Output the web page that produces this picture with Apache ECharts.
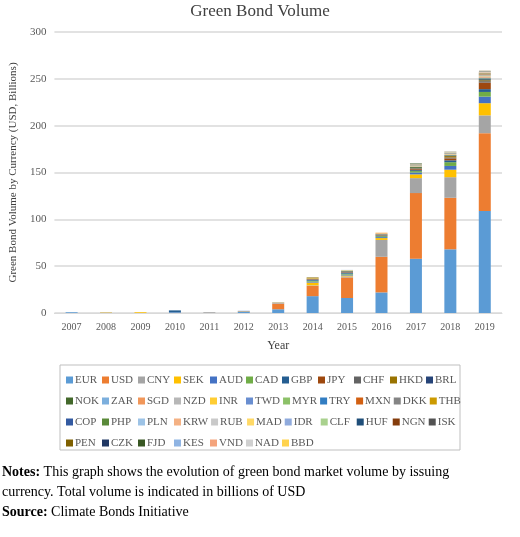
<!DOCTYPE html><html><head><meta charset="utf-8">
<script src="https://cdn.jsdelivr.net/npm/echarts@6/dist/echarts.min.js"></script>
<style>html,body{margin:0;padding:0;background:#fff}#c{width:520px;height:537px}</style></head><body><div id="c"></div>
<script>
const years=['2007','2008','2009','2010','2011','2012','2013','2014','2015','2016','2017','2018','2019'];
const currencies=['EUR','USD','CNY','SEK','AUD','CAD','GBP','JPY','CHF','HKD','BRL','NOK','ZAR','SGD','NZD','INR','TWD','MYR','TRY','MXN','DKK','THB','COP','PHP','PLN','KRW','RUB','MAD','IDR','CLF','HUF','NGN','ISK','PEN','CZK','FJD','KES','VND','NAD','BBD'];
const colors=['#5B9BD5','#ED7D31','#A5A5A5','#FFC000','#4472C4','#70AD47','#255E91','#9E480E','#636363','#997300','#264478','#43682B','#7CAFDD','#F1975A','#B7B7B7','#FFCD33','#698ED0','#8CC168','#327DC2','#D26012','#848484','#CC9A00','#335AA1','#5A8A39','#9DC3E6','#F4B183','#C9C9C9','#FFD966','#8FAADC','#A9D18E','#1F4E79','#843C0C','#525252','#7F6000','#203864','#385723','#8FB4E3','#F4A47C','#D0D0D0','#FFD34D'];
const values={
EUR:[0.8,0,0,0.5,0,1.2,4,18,16,22,58,68,109],
USD:[0,0,0,0,0,0.3,6,11,22,38,70,55,83],
CNY:[0,0,0,0,0.8,0,1,0.5,1,18,16,22,19],
SEK:[0,0,0.8,0,0,0.3,0.3,3,1,2,4,8,13],
AUD:[0,0,0,0.3,0,0.5,0.2,1,1,1,2,4,7],
CAD:[0,0,0,0,0,0,0,1,1,1,1.5,4,5],
GBP:[0,0,0,2,0,0,0,1,1,0.5,1,2,3],
JPY:[0,0,0,0,0,0,0,0.5,0.5,0.5,1,2,7],
CHF:[0,0,0,0,0,0,0,0.5,0.5,0.5,0.5,1,1.5],
HKD:[0,0,0,0,0,0,0,0.5,0.3,0.3,0.5,1.5,1],
BRL:[0,0,0,0,0,0,0,0,0.3,0.2,0.5,0.5,1],
NOK:[0,0,0,0,0,0,0,0,0.3,0.2,1,0.5,1],
ZAR:[0,0,0,0,0,0,0,0,0.3,0.2,0.3,0.3,0.8],
SGD:[0,0,0,0,0,0,0,0,0,0.2,0.3,0.3,1],
NZD:[0,0,0,0,0,0,0,0,0,0,0.2,0.3,0.5],
INR:[0,0,0,0,0,0,0,0.5,0.5,0.3,0.5,0.3,0.8],
TWD:[0,0,0,0,0,0,0,0,0,0,0.2,0.3,0.5],
MYR:[0,0,0,0,0,0,0,0,0,0,0.2,0.2,0.3],
TRY:[0,0,0,0,0,0,0,0,0,0,0.2,0.2,0.3],
MXN:[0,0,0,0,0,0,0,0,0,0.3,0.2,0.2,0.5],
DKK:[0,0,0,0,0,0,0,0,0,0,0.2,0.2,0.3],
THB:[0,0.4,0,0,0,0,0,0,0,0,0,0.2,0.5],
COP:[0,0,0,0,0,0,0,0,0,0,0,0.1,0.2],
PHP:[0,0,0,0,0,0,0,0,0,0,0,0.1,0.2],
PLN:[0,0,0,0,0,0,0,0,0,0,0.2,0.1,0.2],
KRW:[0,0,0,0,0,0,0,0,0,0.5,0.1,0.2,0.5],
RUB:[0,0,0,0,0,0,0,0,0,0,0,0.1,0.2],
MAD:[0,0,0,0,0,0,0,0,0,0.2,0.1,0.1,0.2],
IDR:[0,0,0,0,0,0,0,0,0.3,0,0,0.1,0.3],
CLF:[0,0,0,0,0,0,0,0,0,0,0.1,0.1,0.1],
HUF:[0,0,0,0,0,0,0,0,0,0,0,0.1,0.1],
NGN:[0,0,0,0,0,0,0,0,0,0,0.1,0.1,0.1],
ISK:[0,0,0,0,0,0,0,0,0,0,0.1,0,0.1],
PEN:[0,0,0,0,0,0,0,0.5,0,0,0,0.1,0.1],
CZK:[0,0,0,0,0,0,0,0,0,0,0,0,0.1],
FJD:[0,0,0,0,0,0,0,0,0,0,0.6,0,0.1],
KES:[0,0,0,0,0,0,0,0,0,0,0,0,0.1],
VND:[0,0,0,0,0,0,0,0,0,0,0,0,0.1],
NAD:[0,0,0,0,0,0,0,0,0,0,0,0,0.1],
BBD:[0,0,0,0,0,0,0,0,0,0,0,0,0.1]
};
const yTicks=[0,50,100,150,200,250,300];
const F='"Liberation Serif", "DejaVu Serif", serif';
const chart=echarts.init(document.getElementById('c'));
chart.setOption({
 animation:false,
 color:colors,
 title:{text:'Green Bond Volume',left:'center',top:-2,textStyle:{fontFamily:F,fontSize:17,fontWeight:'normal',color:'#404040'}},
 grid:{left:45,right:18,top:32,bottom:224},
 xAxis:{type:'category',data:years,name:'Year',nameLocation:'middle',nameGap:27,nameTextStyle:{fontFamily:F,fontSize:12,color:'#404040'},
  axisLine:{lineStyle:{color:'#d9d9d9'}},axisTick:{show:false},axisLabel:{fontFamily:F,fontSize:10,color:'#595959',margin:9}},
 yAxis:{type:'value',min:yTicks[0],max:yTicks[yTicks.length-1],interval:50,name:'Green Bond Volume by Currency (USD, Billions)',nameLocation:'middle',nameGap:32,
  nameTextStyle:{fontFamily:F,fontSize:11,color:'#404040'},axisLabel:{fontFamily:F,fontSize:11,color:'#595959'},
  splitLine:{lineStyle:{color:'#d9d9d9',width:1.5}},axisLine:{show:false}},
 legend:{data:currencies,left:66,top:371,width:398,padding:0,itemWidth:7,itemHeight:7,itemGap:3,icon:'rect',
  textStyle:{fontFamily:F,fontSize:11,color:'#595959',width:24,lineHeight:18,overflow:'none',padding:[0,0,0,-3]}},
 graphic:[
  {type:'rect',shape:{x:60,y:365,width:400,height:85},style:{fill:'none',stroke:'#bfbfbf',lineWidth:1}},
  {type:'text',left:2,top:462,style:{fontFamily:F,fontSize:14,lineHeight:20,fill:'#000',
   text:'{b|Notes:} This graph shows the evolution of green bond market volume by issuing\ncurrency. Total volume is indicated in billions of USD\n{b|Source:} Climate Bonds Initiative',
   rich:{b:{fontFamily:F,fontSize:14,fontWeight:'bold'}}}}
 ],
 series:currencies.map(c=>({name:c,type:'bar',stack:'t',barWidth:12,data:values[c]}))
});
</script></body></html>
